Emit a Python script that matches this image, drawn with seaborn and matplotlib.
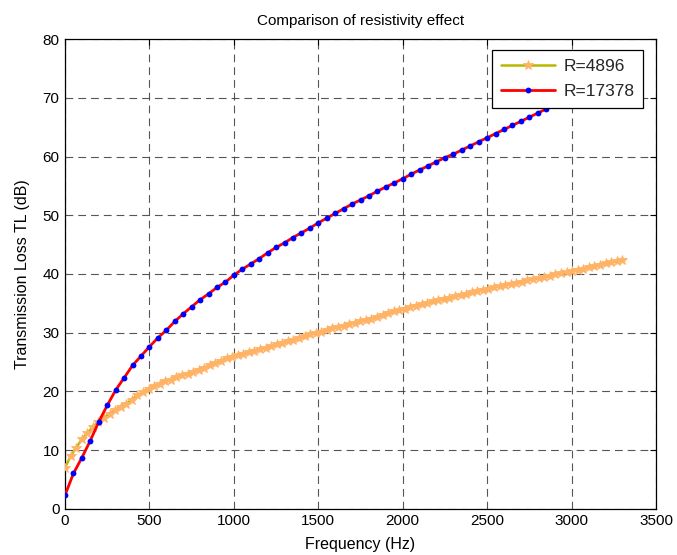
import numpy as np
import pandas as pd
import matplotlib
matplotlib.use("Agg")
import matplotlib.pyplot as plt
import seaborn as sns

# ---- data ----
freq_a = [0, 33, 66, 99, 132, 165, 198, 231, 264, 297, 330, 363, 396, 429, 462, 495,
          528, 561, 594, 627, 660, 693, 726, 759, 792, 825, 858, 891, 924, 957, 990,
          1023, 1056, 1089, 1122, 1155, 1188, 1221, 1254, 1287, 1320, 1353, 1386, 1419,
          1452, 1485, 1518, 1551, 1584, 1617, 1650, 1683, 1716, 1749, 1782, 1815, 1848,
          1881, 1914, 1947, 1980, 2013, 2046, 2079, 2112, 2145, 2178, 2211, 2244, 2277,
          2310, 2343, 2376, 2409, 2442, 2475, 2508, 2541, 2574, 2607, 2640, 2673, 2706,
          2739, 2772, 2805, 2838, 2871, 2904, 2937, 2970, 3003, 3036, 3069, 3102, 3135,
          3168, 3201, 3234, 3267, 3300]
tl_a = [7.0, 8.9, 10.4, 11.8, 12.9, 13.9, 14.8, 15.5, 16.2, 16.8, 17.4, 17.9, 18.6, 19.3,
        19.9, 20.4, 20.9, 21.3, 21.7, 22.0, 22.4, 22.7, 23.0, 23.3, 23.7, 24.0, 24.4, 24.8,
        25.2, 25.6, 25.9, 26.2, 26.4, 26.7, 26.9, 27.2, 27.4, 27.7, 28.0, 28.2, 28.5, 28.8,
        29.1, 29.4, 29.7, 29.9, 30.1, 30.4, 30.7, 30.9, 31.2, 31.4, 31.7, 31.9, 32.2, 32.4,
        32.7, 33.0, 33.3, 33.6, 33.9, 34.1, 34.4, 34.6, 34.8, 35.0, 35.3, 35.5, 35.7, 35.9,
        36.2, 36.4, 36.6, 36.9, 37.1, 37.3, 37.5, 37.7, 37.9, 38.1, 38.3, 38.5, 38.7, 38.9,
        39.1, 39.3, 39.5, 39.7, 39.9, 40.1, 40.3, 40.5, 40.7, 40.9, 41.1, 41.3, 41.6, 41.8,
        42.0, 42.2, 42.4]

freq_b = [0, 50, 100, 150, 200, 250, 300, 350, 400, 450, 500, 550, 600, 650, 700, 750,
          800, 850, 900, 950, 1000, 1050, 1100, 1150, 1200, 1250, 1300, 1350, 1400, 1450,
          1500, 1550, 1600, 1650, 1700, 1750, 1800, 1850, 1900, 1950, 2000, 2050, 2100,
          2150, 2200, 2250, 2300, 2350, 2400, 2450, 2500, 2550, 2600, 2650, 2700, 2750,
          2800, 2850, 2900, 2950, 3000, 3050, 3100, 3150, 3200, 3250, 3300]
tl_b = [2.3, 6.0, 8.7, 11.6, 14.8, 17.6, 20.2, 22.3, 24.4, 26.0, 27.6, 29.1, 30.4, 31.9,
        33.2, 34.4, 35.6, 36.6, 37.7, 38.6, 39.8, 40.8, 41.7, 42.6, 43.6, 44.5, 45.3, 46.2,
        47.0, 47.8, 48.7, 49.5, 50.3, 51.1, 51.9, 52.6, 53.3, 54.1, 54.8, 55.5, 56.2, 57.0,
        57.7, 58.4, 59.1, 59.8, 60.4, 61.1, 61.8, 62.5, 63.2, 63.9, 64.6, 65.3, 66.0, 66.7,
        67.4, 68.1, 68.8, 69.5, 70.1, 70.8, 71.4, 72.1, 72.7, 73.4, 74.0]

labels = ["R=4896", "R=17378"]
x_ticks = [0, 500, 1000, 1500, 2000, 2500, 3000, 3500]
y_ticks = [0, 10, 20, 30, 40, 50, 60, 70, 80]

df_a = pd.DataFrame({"f": freq_a, "tl": tl_a})
df_b = pd.DataFrame({"f": freq_b, "tl": tl_b})

sns.set_theme(style="white")
plt.rcParams["font.family"] = ["Liberation Sans", "DejaVu Sans"]
plt.rcParams["xtick.direction"] = "in"
plt.rcParams["ytick.direction"] = "in"

fig = plt.figure(figsize=(6.77, 5.55), dpi=100)
ax = fig.add_axes([65 / 677, 1 - 508.7 / 555, 591 / 677, (508.7 - 39.1) / 555])

sns.lineplot(data=df_a, x="f", y="tl", ax=ax, estimator=None, sort=False,
             color="#b8b800", linewidth=1.8, marker="*", markersize=7.5,
             markerfacecolor="#ffb366", markeredgecolor="#ffb366", markeredgewidth=0.6,
             label=labels[0], zorder=3)
sns.lineplot(data=df_b, x="f", y="tl", ax=ax, estimator=None, sort=False,
             color="#ff0000", linewidth=2.0, marker="o", markersize=4.2,
             markerfacecolor="#0000ff", markeredgecolor="#0000ff", markeredgewidth=0,
             label=labels[1], zorder=4)

ax.set_xlim(0, 3500)
ax.set_ylim(0, 80)
ax.set_xticks(x_ticks)
ax.set_yticks(y_ticks)
ax.tick_params(axis="both", labelsize=11, length=4, width=0.8, colors="black",
               top=True, right=True, pad=4)
for sp in ax.spines.values():
    sp.set_color("black")
    sp.set_linewidth(0.9)
ax.grid(True, color="#444444", linestyle=(0, (7, 4.5)), linewidth=0.8, alpha=0.9)
ax.set_axisbelow(True)

ax.set_xlabel("Frequency (Hz)", fontsize=11.5, color="black", labelpad=6)
ax.set_ylabel("Transmission Loss TL (dB)", fontsize=11.5, color="black", labelpad=9)
ax.set_title("Comparison of resistivity effect", fontsize=11, color="black", pad=10)

leg = ax.legend(loc="upper right", bbox_to_anchor=(0.978, 0.977), borderaxespad=0,
                fancybox=False, framealpha=1, edgecolor="black", fontsize=12.5,
                handlelength=3.1, labelspacing=0.6, borderpad=0.5, handletextpad=0.5)
leg.get_frame().set_linewidth(0.9)
leg.set_zorder(10)

fig.savefig("out.png", dpi=100)
